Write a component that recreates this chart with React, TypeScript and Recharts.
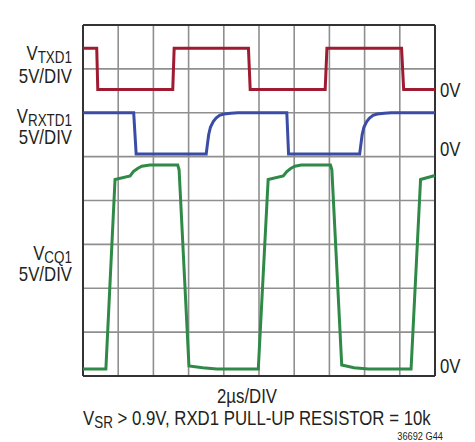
import type { ReactNode } from "react";
import { CartesianGrid, Line, LineChart, ReferenceLine, XAxis, YAxis } from "recharts";

// time in divisions (2µs/DIV), level in divisions from the bottom of the screen
const txdTime = [0, 0.39, 0.42, 2.55, 2.59, 4.7, 4.75, 6.88, 6.93, 9.05, 9.11, 10];
const txdLevel = [7.47, 7.47, 6.53, 6.53, 7.47, 7.47, 6.53, 6.53, 7.47, 7.47, 6.53, 6.53];

const rxtdTime = [
  0, 1.44, 1.51, 3.5, 3.53, 3.57, 3.62, 3.7, 3.78, 3.88, 4.0, 4.2, 4.4,
  5.79, 5.84, 7.86, 7.89, 7.93, 7.98, 8.06, 8.14, 8.24, 8.36, 8.56, 8.76, 10
];
const rxtdLevel = [
  6.0, 6.0, 5.06, 5.06, 5.25, 5.5, 5.67, 5.8, 5.88, 5.94, 5.97, 5.99, 6.0,
  6.0, 5.06, 5.06, 5.25, 5.5, 5.67, 5.8, 5.88, 5.94, 5.97, 5.99, 6.0, 6.0
];

const cqTime = [
  0, 0.65, 0.91, 1.34, 1.43, 1.55, 1.67, 1.9, 2.69, 2.73, 3.01, 3.4, 3.8,
  4.98, 5.26, 5.69, 5.79, 5.9, 6.02, 6.2, 7.03, 7.07, 7.35, 7.7, 8.1,
  9.32, 9.59, 10
];
const cqLevel = [
  0.16, 0.16, 4.48, 4.56, 4.66, 4.73, 4.78, 4.81, 4.81, 4.7, 0.23, 0.19, 0.16,
  0.16, 4.48, 4.56, 4.66, 4.73, 4.78, 4.81, 4.81, 4.7, 0.25, 0.19, 0.16,
  0.16, 4.48, 4.57
];

const xTicks = [0, 1, 2, 3, 4, 5, 6, 7, 8, 9, 10];
const yTicks = [0, 1, 2, 3, 4, 5, 6, 7, 8];

const toPoints = (t: number[], v: number[]) => t.map((x, i) => ({ t: x, v: v[i] }));

const font = "'Liberation Sans', Arial, sans-serif";
const ink = "#231f20";

// condensed text: the original uses a condensed grotesque, so squeeze horizontally
function T({ x, y, anchor = "start", size = 20, children }: { x: number; y: number; anchor?: "start" | "middle" | "end"; size?: number; children: ReactNode }) {
  return (
    <g transform={`translate(${x},${y}) scale(0.84,1)`}>
      <text x={0} y={0} textAnchor={anchor} fontSize={size}>
        {children}
      </text>
    </g>
  );
}

function Sub({ main, sub }: { main: string; sub: string }) {
  return (
    <>
      {main}
      <tspan fontSize={16} dy={3}>{sub}</tspan>
    </>
  );
}

function Labels() {
  return (
    <svg width={475} height={442} style={{ position: "absolute", left: 0, top: 0, pointerEvents: "none" }}>
      <g fontFamily={font} fill={ink}>
        <T x={72} y={60} anchor="end"><Sub main="V" sub="TXD1" /></T>
        <T x={72} y={83} anchor="end">5V/DIV</T>
        <T x={72} y={123} anchor="end"><Sub main="V" sub="RXTD1" /></T>
        <T x={72} y={144} anchor="end">5V/DIV</T>
        <T x={72} y={260} anchor="end"><Sub main="V" sub="CQ1" /></T>
        <T x={72} y={281} anchor="end">5V/DIV</T>
        <T x={440} y={97}>0V</T>
        <T x={440} y={156}>0V</T>
        <T x={440} y={373}>0V</T>
        <T x={247} y={403} anchor="middle">2µs/DIV</T>
        <T x={83} y={425}>
          <Sub main="V" sub="SR" />
          <tspan dy={-3}> &gt; 0.9V, RXD1 PULL-UP RESISTOR = 10k</tspan>
        </T>
        <T x={443} y={440} anchor="end" size={11}>36692 G44</T>
      </g>
    </svg>
  );
}

export default function App() {
  return (
    <div style={{ position: "absolute", left: 0, top: 0, width: 475, height: 442, background: "#fff" }}>
      <LineChart width={475} height={442} margin={{ top: 25, right: 40, bottom: 66, left: 83 }}>
        <XAxis type="number" dataKey="t" domain={[0, 10]} ticks={xTicks} hide />
        <YAxis type="number" dataKey="v" domain={[0, 8]} ticks={yTicks} hide />
        <CartesianGrid stroke="#8f8f8f" strokeWidth={1.6} />
        <ReferenceLine x={0} stroke="#333" strokeWidth={2} />
        <ReferenceLine x={10} stroke="#333" strokeWidth={2} />
        <ReferenceLine y={0} stroke="#333" strokeWidth={2} />
        <ReferenceLine y={8} stroke="#333" strokeWidth={2} />
        <Line data={toPoints(txdTime, txdLevel)} dataKey="v" type="linear" stroke="#9e1b32" strokeWidth={3} dot={false} isAnimationActive={false} />
        <Line data={toPoints(rxtdTime, rxtdLevel)} dataKey="v" type="linear" stroke="#3a4ca5" strokeWidth={3} dot={false} isAnimationActive={false} />
        <Line data={toPoints(cqTime, cqLevel)} dataKey="v" type="linear" stroke="#2f8a47" strokeWidth={3} dot={false} isAnimationActive={false} />
      </LineChart>
      <Labels />
    </div>
  );
}
